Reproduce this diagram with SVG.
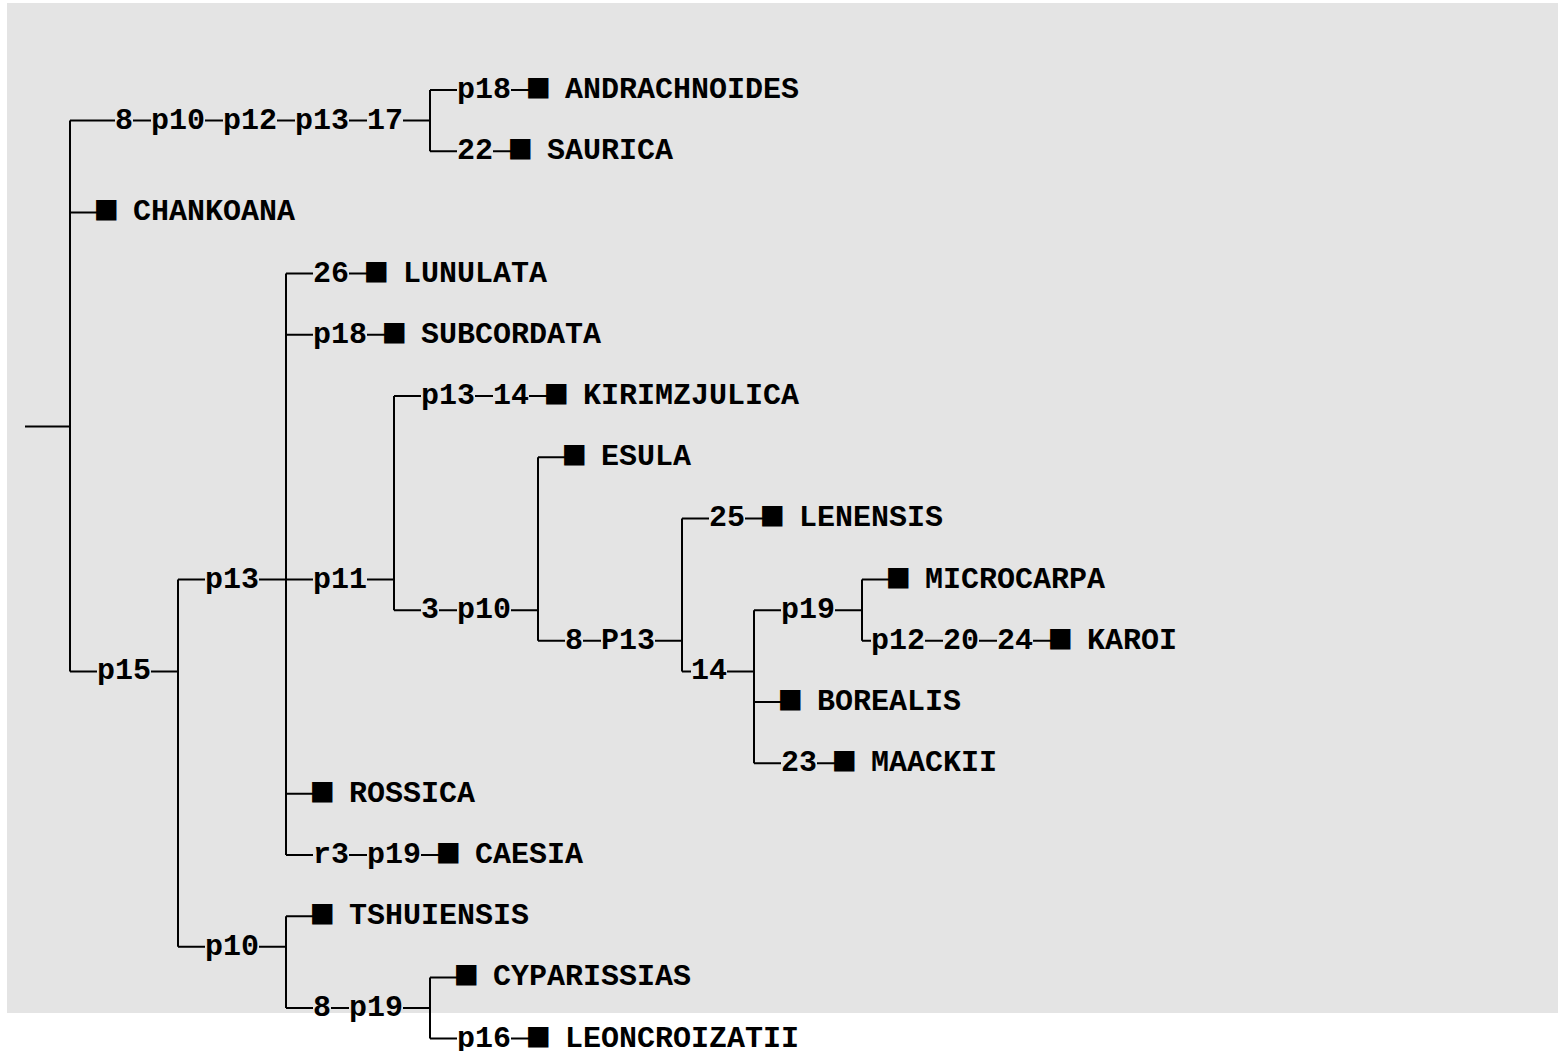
<svg xmlns="http://www.w3.org/2000/svg" width="1558" height="1051" viewBox="0 0 1558 1051">
<style>
.t{font-family:"Liberation Mono","Courier New","DejaVu Sans Mono",monospace;font-size:30px;font-weight:bold;fill:#000}
.sq{font-size:42px;text-anchor:middle}
.c path{stroke:#000;stroke-width:2;fill:none}
</style>
<rect x="7" y="3" width="1551" height="1010" fill="#e4e4e4"/>
<g id="connectors" class="c">
<path d="M25 426.6H70M70 120.6V671.4M70 120.6H115M133 120.6H151M205 120.6H223M277 120.6H295M349 120.6H367M403 120.6H430"/>
<path d="M430 90V151.2M430 90H457M511 90H529M430 151.2H457M493 151.2H511"/>
<path d="M70 212.4H97M70 671.4H97M151 671.4H178"/>
<path d="M178 579.6V946.8M178 579.6H205M259 579.6H313M367 579.6H394M178 946.8H205M259 946.8H286"/>
<path d="M286 273.6V855M286 273.6H313M349 273.6H367M286 334.8H313M367 334.8H385M286 793.8H313M286 855H313M349 855H367M421 855H439"/>
<path d="M394 396V610.2M394 396H421M475 396H493M529 396H547M394 610.2H421M439 610.2H457M511 610.2H538"/>
<path d="M538 457.2V640.8M538 457.2H565M538 640.8H565M583 640.8H601M655 640.8H682"/>
<path d="M682 518.4V671.4M682 518.4H709M745 518.4H763M682 671.4H691M727 671.4H754"/>
<path d="M754 610.2V763.2M754 610.2H781M835 610.2H862M754 702H781M754 763.2H781M817 763.2H835"/>
<path d="M862 579.6V640.8M862 579.6H889M862 640.8H871M925 640.8H943M979 640.8H997M1033 640.8H1051"/>
<path d="M286 916.2V1008M286 916.2H313M286 1008H313M331 1008H349M403 1008H430"/>
<path d="M430 977.4V1038.6M430 977.4H457M430 1038.6H457M511 1038.6H529"/>
</g>
<g id="nodes" class="t">
<g id="n-8a"><text x="115" y="128.6">8</text></g>
<g id="n-p10a"><text x="151" y="128.6">p10</text></g>
<g id="n-p12a"><text x="223" y="128.6">p12</text></g>
<g id="n-p13a"><text x="295" y="128.6">p13</text></g>
<g id="n-17"><text x="367" y="128.6">17</text></g>
<g id="n-p18a"><text x="457" y="98">p18</text></g>
<g id="leaf-andrachnoides"><text class="sq" x="538" y="101">■</text><text x="565" y="98">ANDRACHNOIDES</text></g>
<g id="n-22"><text x="457" y="159.2">22</text></g>
<g id="leaf-saurica"><text class="sq" x="520" y="162.2">■</text><text x="547" y="159.2">SAURICA</text></g>
<g id="leaf-chankoana"><text class="sq" x="106" y="223.4">■</text><text x="133" y="220.4">CHANKOANA</text></g>
<g id="n-26"><text x="313" y="281.6">26</text></g>
<g id="leaf-lunulata"><text class="sq" x="376" y="284.6">■</text><text x="403" y="281.6">LUNULATA</text></g>
<g id="n-p18b"><text x="313" y="342.8">p18</text></g>
<g id="leaf-subcordata"><text class="sq" x="394" y="345.8">■</text><text x="421" y="342.8">SUBCORDATA</text></g>
<g id="n-p13c"><text x="421" y="404">p13</text></g>
<g id="n-14a"><text x="493" y="404">14</text></g>
<g id="leaf-kirimzjulica"><text class="sq" x="556" y="407">■</text><text x="583" y="404">KIRIMZJULICA</text></g>
<g id="leaf-esula"><text class="sq" x="574" y="468.2">■</text><text x="601" y="465.2">ESULA</text></g>
<g id="n-25"><text x="709" y="526.4">25</text></g>
<g id="leaf-lenensis"><text class="sq" x="772" y="529.4">■</text><text x="799" y="526.4">LENENSIS</text></g>
<g id="n-p13b"><text x="205" y="587.6">p13</text></g>
<g id="n-p11"><text x="313" y="587.6">p11</text></g>
<g id="leaf-microcarpa"><text class="sq" x="898" y="590.6">■</text><text x="925" y="587.6">MICROCARPA</text></g>
<g id="n-3"><text x="421" y="618.2">3</text></g>
<g id="n-p10b"><text x="457" y="618.2">p10</text></g>
<g id="n-p19a"><text x="781" y="618.2">p19</text></g>
<g id="n-8b"><text x="565" y="648.8">8</text></g>
<g id="n-P13"><text x="601" y="648.8">P13</text></g>
<g id="n-p12b"><text x="871" y="648.8">p12</text></g>
<g id="n-20"><text x="943" y="648.8">20</text></g>
<g id="n-24"><text x="997" y="648.8">24</text></g>
<g id="leaf-karoi"><text class="sq" x="1060" y="651.8">■</text><text x="1087" y="648.8">KAROI</text></g>
<g id="n-p15"><text x="97" y="679.4">p15</text></g>
<g id="n-14b"><text x="691" y="679.4">14</text></g>
<g id="leaf-borealis"><text class="sq" x="790" y="713">■</text><text x="817" y="710">BOREALIS</text></g>
<g id="n-23"><text x="781" y="771.2">23</text></g>
<g id="leaf-maackii"><text class="sq" x="844" y="774.2">■</text><text x="871" y="771.2">MAACKII</text></g>
<g id="leaf-rossica"><text class="sq" x="322" y="804.8">■</text><text x="349" y="801.8">ROSSICA</text></g>
<g id="n-r3"><text x="313" y="863">r3</text></g>
<g id="n-p19b"><text x="367" y="863">p19</text></g>
<g id="leaf-caesia"><text class="sq" x="448" y="866">■</text><text x="475" y="863">CAESIA</text></g>
<g id="leaf-tshuiensis"><text class="sq" x="322" y="927.2">■</text><text x="349" y="924.2">TSHUIENSIS</text></g>
<g id="n-p10c"><text x="205" y="954.8">p10</text></g>
<g id="leaf-cyparissias"><text class="sq" x="466" y="988.4">■</text><text x="493" y="985.4">CYPARISSIAS</text></g>
<g id="n-8c"><text x="313" y="1016">8</text></g>
<g id="n-p19c"><text x="349" y="1016">p19</text></g>
<g id="n-p16"><text x="457" y="1046.6">p16</text></g>
<g id="leaf-leoncroizatii"><text class="sq" x="538" y="1049.6">■</text><text x="565" y="1046.6">LEONCROIZATII</text></g>
</g>
</svg>
